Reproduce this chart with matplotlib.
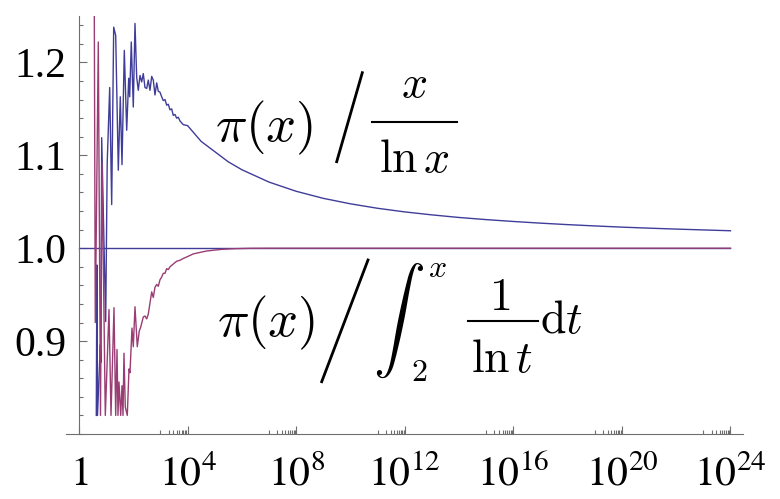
import matplotlib
matplotlib.use('Agg')
import matplotlib.pyplot as plt
from matplotlib.lines import Line2D
from matplotlib.ticker import FixedLocator, MultipleLocator, NullFormatter
import numpy as np

W, H = 780, 499

# log10(x) and ratio values
blue_lx = [0.637, 0.659, 0.681, 0.785, 0.807, 0.836, 0.983, 1.039, 1.131, 1.204,
           1.278, 1.352, 1.448, 1.521, 1.584, 1.669, 1.757, 1.831, 1.867, 1.926,
           2.000, 2.063, 2.125, 2.184, 2.247, 2.309, 2.368, 2.431, 2.494, 2.552,
           2.615, 2.678, 2.737, 2.799, 2.862, 2.921, 2.983, 3.046, 3.105, 3.168,
           3.230, 3.289, 3.352, 3.414, 3.473, 3.536, 3.598, 3.657, 3.720, 3.842,
           4.0, 4.5, 5.0, 5.5, 6, 7, 8, 9, 10, 11, 12, 13, 14, 15, 16, 17, 18,
           19, 20, 21, 22, 23, 24]
blue_val = [0.82, 0.982, 0.82, 0.896, 0.877, 1.119, 0.921, 1.092, 1.173, 1.047,
            1.238, 1.229, 1.084, 1.163, 1.090, 1.213, 1.127, 1.183, 1.163, 1.222,
            1.152, 1.242, 1.184, 1.170, 1.186, 1.179, 1.188, 1.173, 1.172, 1.181,
            1.170, 1.185, 1.181, 1.165, 1.178, 1.169, 1.168, 1.163, 1.159, 1.160,
            1.154, 1.155, 1.149, 1.150, 1.143, 1.144, 1.140, 1.141, 1.137, 1.133,
            1.132, 1.115, 1.104, 1.093, 1.0845, 1.0712, 1.0613, 1.0537, 1.0478,
            1.0430, 1.0391, 1.0359, 1.0331, 1.0308, 1.0288, 1.0270, 1.0254,
            1.0240, 1.0227, 1.0216, 1.0206, 1.0197, 1.0188]

red_lx = [0.564, 0.600, 0.711, 0.792, 0.847, 0.969, 1.105, 1.179, 1.289, 1.352,
          1.400, 1.436, 1.473, 1.536, 1.584, 1.621, 1.657, 1.705, 1.779, 1.842,
          1.878, 1.952, 2.000, 2.063, 2.147, 2.221, 2.273, 2.368, 2.431, 2.494,
          2.552, 2.678, 2.737, 2.799, 2.862, 2.921, 2.983, 3.046, 3.105, 3.168,
          3.230, 3.289, 3.352, 3.473, 3.598, 3.720, 3.842, 4.0, 4.210, 4.457,
          4.703, 5.0, 5.304, 5.746, 6.3, 7.0, 24]
red_val = [1.25, 0.920, 1.222, 0.82, 1.092, 0.82, 0.934, 0.82, 0.936, 0.82,
           0.891, 0.82, 0.856, 0.82, 0.852, 0.82, 0.887, 0.829, 0.82, 0.870,
           0.866, 0.914, 0.894, 0.937, 0.894, 0.911, 0.915, 0.926, 0.927, 0.924,
           0.929, 0.953, 0.947, 0.958, 0.961, 0.959, 0.966, 0.969, 0.973, 0.973,
           0.978, 0.977, 0.980, 0.983, 0.986, 0.987, 0.989, 0.991, 0.9939, 0.9955,
           0.997, 0.998, 0.9989, 0.9995, 0.9999, 1.0, 1.0]

xtick_pow = [0, 4, 8, 12, 16, 20, 24]
xtick_labels = ['$1$', '$10^{4}$', '$10^{8}$', '$10^{12}$', '$10^{16}$', '$10^{20}$', '$10^{24}$']
ytick_vals = [0.9, 1.0, 1.1, 1.2]
ytick_labels = ['0.9', '1.0', '1.1', '1.2']

BLUE = '#3f3d99'
RED = '#993d74'
AXC = '#6e6e6e'

plt.rcParams['font.family'] = ['Liberation Serif', 'DejaVu Serif']
plt.rcParams['mathtext.fontset'] = 'stix'


def px(x, y):
    # pixel position in the picture -> figure fraction
    return x / W, 1 - y / H


fig = plt.figure(figsize=(W / 100, H / 100), dpi=100)
ax = fig.add_axes([65.7 / W, 65 / H, 677 / W, 418 / H])

bx = 10 ** np.array(blue_lx)
rx = 10 ** np.array(red_lx)
ax.plot([1, bx[-1]], [1, 1], color=BLUE, lw=1.0)
ax.plot(bx, blue_val, color=BLUE, lw=1.0)
ax.plot(rx, red_val, color=RED, lw=1.0)

ax.set_xscale('log')
ax.set_xlim(10 ** -0.49, 10 ** 24.45)
ax.set_ylim(0.8, 1.25)

for s in ['top', 'right']:
    ax.spines[s].set_visible(False)
ax.spines['left'].set_position(('data', 1.0))
for s in ['left', 'bottom']:
    ax.spines[s].set_color(AXC)
    ax.spines[s].set_linewidth(0.8)

ax.xaxis.set_major_locator(FixedLocator([10.0 ** p for p in xtick_pow]))
ax.set_xticklabels(xtick_labels)
minor = [m * 10.0 ** (p - 1) for p in xtick_pow[1:] for m in range(1, 10)]
ax.xaxis.set_minor_locator(FixedLocator(minor))
ax.xaxis.set_minor_formatter(NullFormatter())

ax.set_yticks(ytick_vals)
ax.set_yticklabels(ytick_labels)
ax.yaxis.set_minor_locator(MultipleLocator(0.02))

ax.tick_params(which='both', direction='in', color=AXC, width=0.8, labelsize=30)
ax.tick_params(which='major', length=5.5)
ax.tick_params(which='minor', length=3)
ax.tick_params(axis='x', which='major', pad=37)
ax.tick_params(axis='y', which='major', pad=9)
for lbl in ax.get_xticklabels():
    lbl.set_verticalalignment('baseline')

# annotation 1: pi(x) / (x / ln x)
CM = dict(math_fontfamily='cm', color='black')
fig.text(*px(215, 141.5), r'$\pi(x)$', fontsize=38, ha='left', va='baseline', **CM)
fig.add_artist(Line2D(*zip(px(336.7, 161.7), px(362.3, 72.7)), transform=fig.transFigure,
                      color='black', lw=2.0))
fig.text(*px(414, 97.3), r'$x$', fontsize=33, ha='center', va='baseline', **CM)
fig.add_artist(Line2D(*zip(px(371.7, 121.7), px(456.7, 121.7)), transform=fig.transFigure,
                      color='black', lw=1.5))
fig.text(*px(414, 171.7), r'$\ln x$', fontsize=33, ha='center', va='baseline', **CM)

# annotation 2: pi(x) / int_2^x dt / ln t
fig.text(*px(216.7, 336.5), r'$\pi(x)$', fontsize=38, ha='left', va='baseline', **CM)
fig.add_artist(Line2D(*zip(px(321.7, 381.7), px(368, 260)), transform=fig.transFigure,
                      color='black', lw=2.0))
fig.text(*px(399, 320.5), r'$\int$', fontsize=37.5, ha='center', va='center', **CM)
fig.text(*px(437.5, 277), r'$x$', fontsize=23, ha='center', va='baseline', **CM)
fig.text(*px(419, 381), r'$2$', fontsize=23, ha='center', va='baseline', **CM)
fig.text(*px(500, 310), r'$1$', fontsize=33, ha='center', va='baseline', **CM)
fig.add_artist(Line2D(*zip(px(468.3, 320.7), px(538.3, 320.7)), transform=fig.transFigure,
                      color='black', lw=1.5))
fig.text(*px(502.5, 371.7), r'$\ln t$', fontsize=33, ha='center', va='baseline', **CM)
fig.text(*px(540, 333), r'$\mathrm{d}t$', fontsize=33, ha='left', va='baseline', **CM)

fig.savefig('out.png', dpi=100)
